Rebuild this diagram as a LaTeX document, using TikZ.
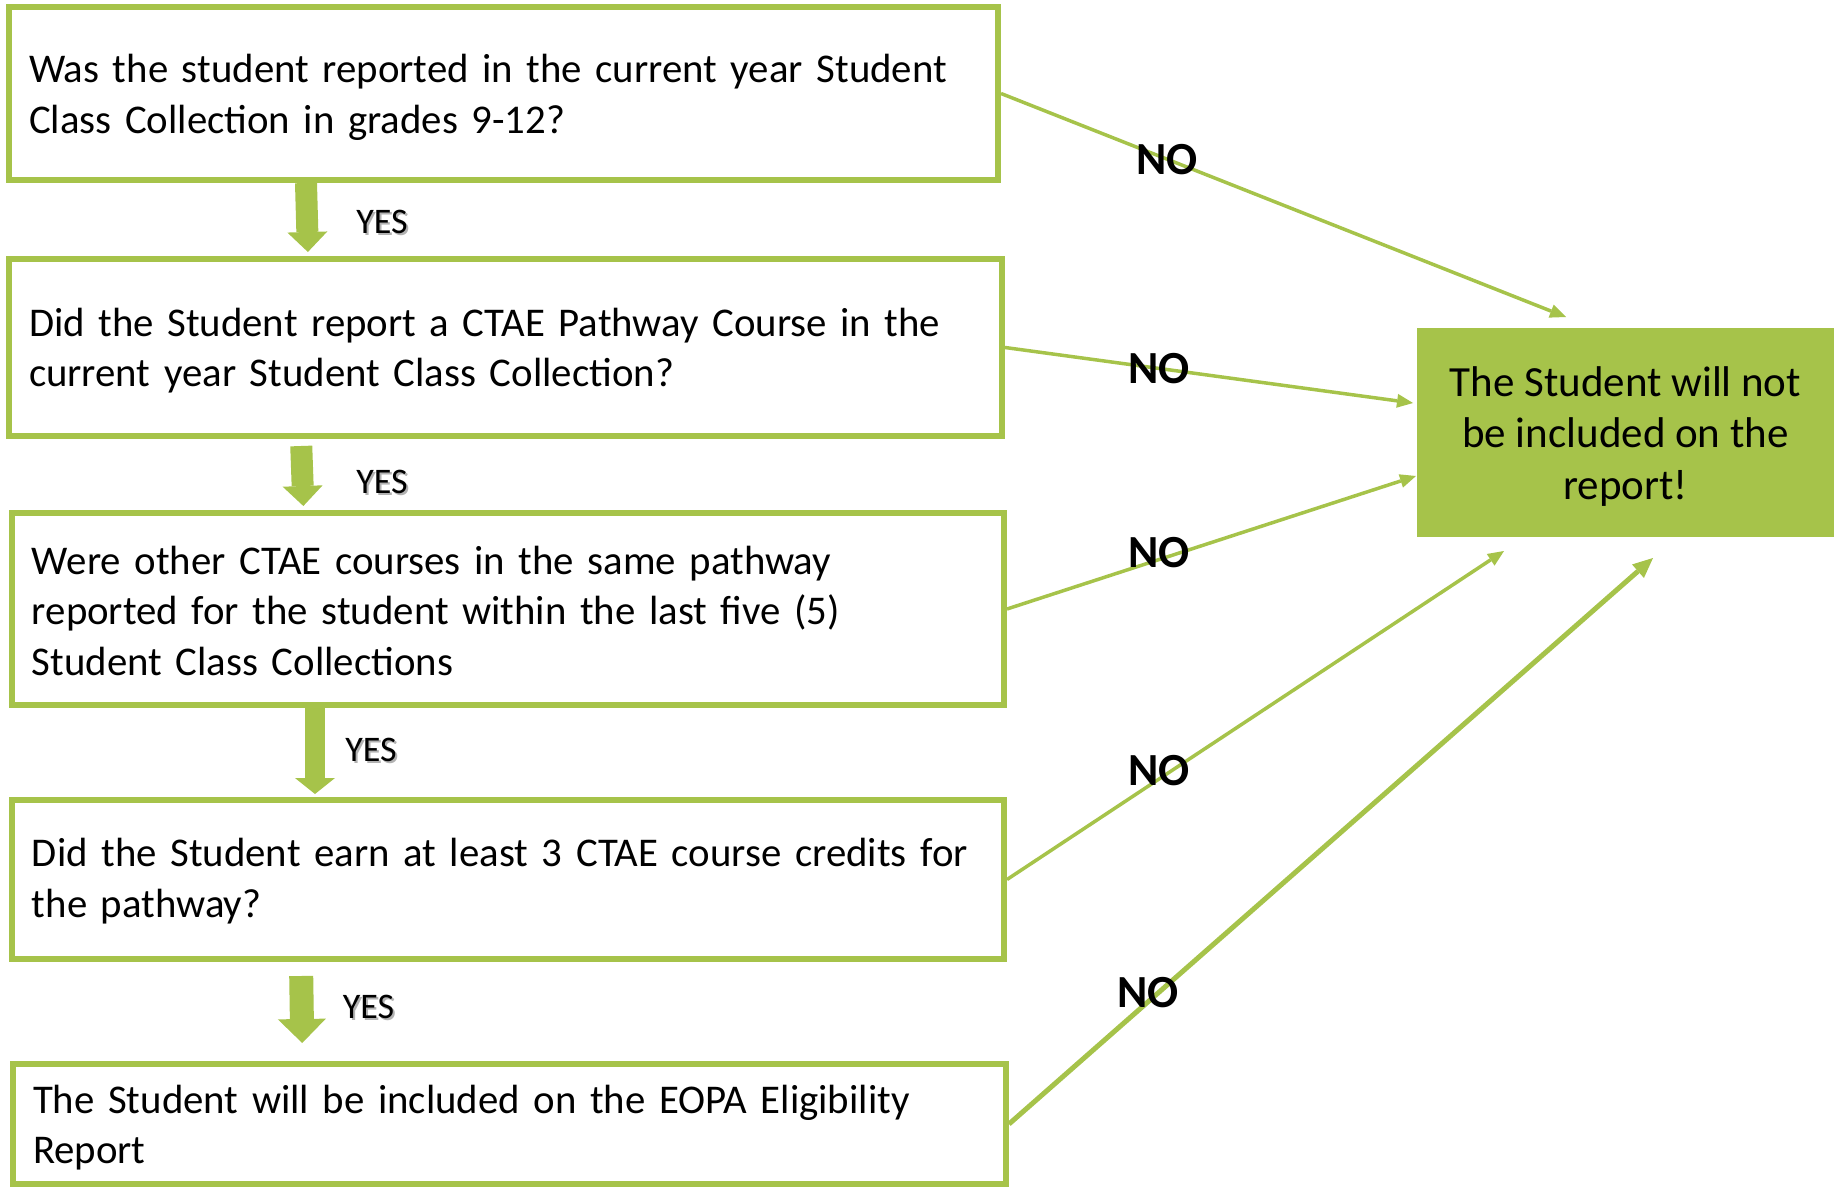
\documentclass[tikz,border=0pt]{standalone}
\usepackage{fontspec}
\setmainfont{Carlito}
\usetikzlibrary{arrows.meta}
\definecolor{leaf}{RGB}{166,195,74}
\newcommand{\shadowed}[1]{\rlap{\hspace{1pt}\raisebox{-1pt}{\textcolor{black!30}{#1}}}#1}

\begin{document}
\begin{tikzpicture}[x=0.5pt,y=-0.5pt]
\tikzset{box/.style={draw=leaf, line width=3pt, align=left, inner xsep=10pt, text height=16pt, text depth=26.5pt, font=\fontsize{20.4}{25.25}\selectfont},
         yes/.style={leaf, line width=11pt, -{Triangle[length=10pt,width=20pt,line width=0pt]}},
         no/.style={leaf, line width=1.75pt, -{Triangle[length=8pt,width=7pt,line width=0pt]}},
         yestext/.style={font=\fontsize{18}{21}\selectfont},
         notext/.style={text=black, font=\bfseries\fontsize{23}{27}\selectfont}}
\useasboundingbox (0,0) rectangle (1837,1188);
\node[box, minimum width=494.5pt, minimum height=86.5pt, text width=474.5pt] (q1) at (503.5,93.5)
  {Was the student reported in the current year Student\\Class Collection in grades 9-12?};
\node[box, minimum width=496.5pt, minimum height=88.5pt, text width=476.5pt, text depth=27.5pt] (q2) at (505.5,347.5)
  {Did the Student report a CTAE Pathway Course in the\\current year Student Class Collection?};
\node[box, minimum width=496pt, minimum height=96pt, text width=476pt, text depth=51pt] (q3) at (508,609)
  {Were other CTAE courses in the same pathway\\reported for the student within the last five (5)\\Student Class Collections};
\node[box, minimum width=496pt, minimum height=79.5pt, text width=476pt, text depth=29pt] (q4) at (508,879.5)
  {Did the Student earn at least 3 CTAE course credits for\\the pathway?};
\node[box, minimum width=496.5pt, minimum height=60pt, text width=476.5pt, text depth=27pt] (q5) at (509.5,1124)
  {The Student will be included on the EOPA Eligibility\\Report};
\node[fill=leaf, align=center, minimum width=208.5pt, minimum height=104.5pt, text depth=8pt, text height=74.5pt, font=\fontsize{21.5}{25.75}\selectfont] (r) at (1625.5,432.5)
  {The Student will not\\be included on the\\report!};

\draw[yes, shorten >=2pt] ([xshift=-98.75pt]q1.south) -- ([xshift=-98.75pt]q2.north);
\draw[yes, shorten <=3.5pt, shorten >=2pt] ([xshift=-102.25pt]q2.south) -- ([xshift=-102.25pt]q3.north);
\draw[yes, line width=10pt, shorten >=1.5pt, -{Triangle[length=8pt,width=20pt,line width=0pt]}] ([xshift=-96.5pt]q3.south) -- ([xshift=-96.5pt]q4.north);
\draw[yes, line width=12pt, shorten <=7pt, shorten >=9pt, -{Triangle[length=12pt,width=24pt,line width=0pt]}] ([xshift=-103.5pt]q4.south) -- ([xshift=-103.5pt]q5.north);
\node[yestext] (y1) at (382,223) {\shadowed{YES}};
\node[yestext] (y2) at (382,482.5) {\shadowed{YES}};
\node[yestext] (y3) at (371,750.5) {\shadowed{YES}};
\node[yestext] (y4) at (368.5,1007.5) {\shadowed{YES}};

\coordinate (t1) at (1566,317);
\coordinate (t2) at (1413,403);
\coordinate (t3) at (1416,476);
\coordinate (t4) at (1504,551);
\coordinate (t5) at (1653,558);
\draw[no] (q1.east) -- (t1) node[notext, pos=.294] (n1) {NO};
\draw[no] (q2.east) -- (t2) node[notext, pos=.377] (n2) {NO};
\draw[no] (q3.east) -- (t3) node[notext, pos=.372, yshift=3.5pt] (n3) {NO};
\draw[no] (q4.east) -- (t4) node[notext, pos=.306, yshift=4pt] (n4) {NO};
\draw[no, line width=2.5pt, -{Triangle[length=10pt,width=9pt,line width=0pt]}] (q5.east) -- (t5) node[notext, pos=.216, yshift=4.5pt] (n5) {NO};
\end{tikzpicture}
\end{document}
